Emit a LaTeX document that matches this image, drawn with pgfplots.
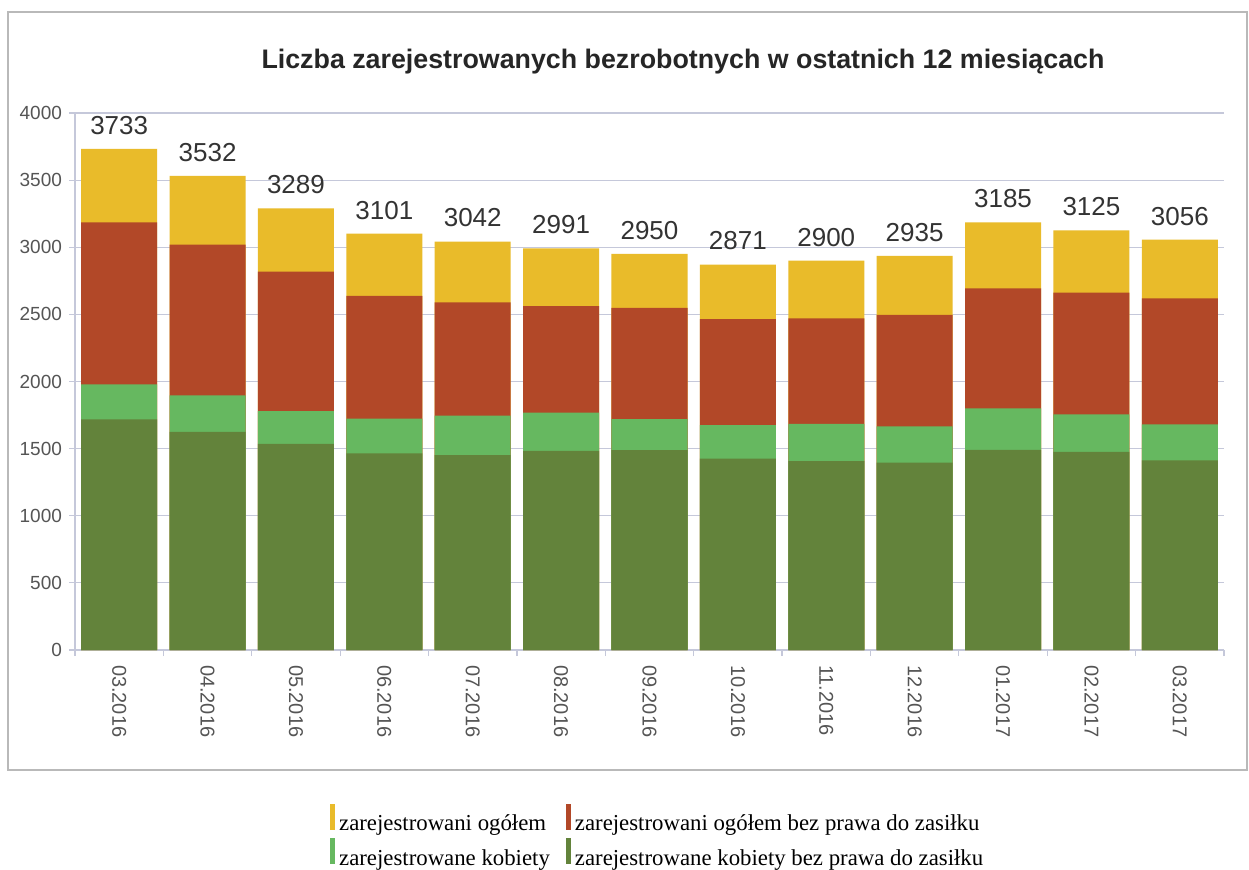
\documentclass[border=0pt]{standalone}
\usepackage{fontspec}
\setmainfont{Liberation Sans}
\newfontfamily\legfont{Liberation Serif}
\usepackage{pgfplots}
\pgfplotsset{compat=1.18}
\definecolor{cYel}{HTML}{E9BB2A}
\definecolor{cRed}{HTML}{B24828}
\definecolor{cLGr}{HTML}{66B860}
\definecolor{cDGr}{HTML}{63833B}
\definecolor{gridc}{HTML}{C5C8DA}
\definecolor{tickc}{HTML}{555555}
\definecolor{labc}{HTML}{333333}
\begin{document}
\begin{tikzpicture}
\useasboundingbox (0,0) rectangle (624.5pt,434.5pt);
\fill[white] (0,0) rectangle (624.5pt,434.5pt);
\draw[gray!55, line width=0.9pt] (4pt,49.5pt) rectangle (623.5pt,428.5pt);
\node[font=\bfseries\fontsize{13.4}{15}\selectfont, text=black!85] at (341.5pt,403.5pt)
  {Liczba zarejestrowanych bezrobotnych w ostatnich 12 miesiącach};
\begin{axis}[
  at={(37.5pt,109.5pt)}, anchor=south west,
  scale only axis, width=574.5pt, height=268.5pt,
  xmin=-0.5, xmax=12.5, ymin=0, ymax=4000,
  axis x line*=bottom, axis y line*=left,
  axis line style={gridc, line width=0.8pt},
  ytick={0,500,...,4000},
  ymajorgrids, grid style={gridc, line width=0.6pt},
  tick align=outside, major tick length=3pt,
  tick style={gridc, line width=0.6pt},
  yticklabel style={font=\fontsize{9.5}{10}\selectfont, text=tickc},
  /pgf/number format/assume math mode=true,
  /pgf/number format/1000 sep={},
  xtick={-0.5,0.5,...,12.5}, xticklabels={},
  extra x ticks={0,1,2,3,4,5,6,7,8,9,10,11,12},
  extra x tick labels={03.2016,04.2016,05.2016,06.2016,07.2016,08.2016,09.2016,10.2016,11.2016,12.2016,01.2017,02.2017,03.2017},
  extra x tick style={grid=none, major tick length=0pt,
    xticklabel style={rotate=-90, anchor=west, font=\fontsize{10}{11}\selectfont, text=tickc, xshift=4pt}},
  legend columns=2,
  legend cell align=left,
  legend style={at={(0.508,-0.350)}, anchor=center, draw=none, fill=none,
    font=\legfont\fontsize{11.4}{13}\selectfont,
    /tikz/every even column/.append style={column sep=6pt}, row sep=0pt},
]
\addplot[ybar, bar width=0.86, bar shift=0pt, fill=cYel, draw=none,
  nodes near coords,
  every node near coord/.append style={font=\fontsize{13}{14}\selectfont, text=labc, inner sep=0pt, yshift=7pt},
  legend image code/.code={\fill[cYel] (0pt,-2.5pt) rectangle (2.5pt,10.5pt);}]
  coordinates {(0,3733) (1,3532) (2,3289) (3,3101) (4,3042) (5,2991) (6,2950) (7,2871) (8,2900) (9,2935) (10,3185) (11,3125) (12,3056)};
\addlegendentry{zarejestrowani ogółem}
\addplot[ybar, bar width=0.86, bar shift=0pt, fill=cRed, draw=none,
  legend image code/.code={\fill[cRed] (0pt,-2.5pt) rectangle (2.5pt,10.5pt);}]
  coordinates {(0,3185) (1,3020) (2,2818) (3,2637) (4,2590) (5,2562) (6,2548) (7,2465) (8,2470) (9,2497) (10,2693) (11,2662) (12,2620)};
\addlegendentry{zarejestrowani ogółem bez prawa do zasiłku}
\addplot[ybar, bar width=0.86, bar shift=0pt, fill=cLGr, draw=none,
  legend image code/.code={\fill[cLGr] (0pt,-2.5pt) rectangle (2.5pt,10.5pt);}]
  coordinates {(0,1978) (1,1897) (2,1780) (3,1723) (4,1745) (5,1768) (6,1720) (7,1675) (8,1685) (9,1665) (10,1800) (11,1755) (12,1680)};
\addlegendentry{zarejestrowane kobiety}
\addplot[ybar, bar width=0.86, bar shift=0pt, fill=cDGr, draw=none,
  legend image code/.code={\fill[cDGr] (0pt,-2.5pt) rectangle (2.5pt,10.5pt);}]
  coordinates {(0,1718) (1,1625) (2,1535) (3,1465) (4,1451) (5,1483) (6,1488) (7,1426) (8,1406) (9,1395) (10,1490) (11,1475) (12,1412)};
\addlegendentry{zarejestrowane kobiety bez prawa do zasiłku}
\end{axis}
\end{tikzpicture}
\end{document}
